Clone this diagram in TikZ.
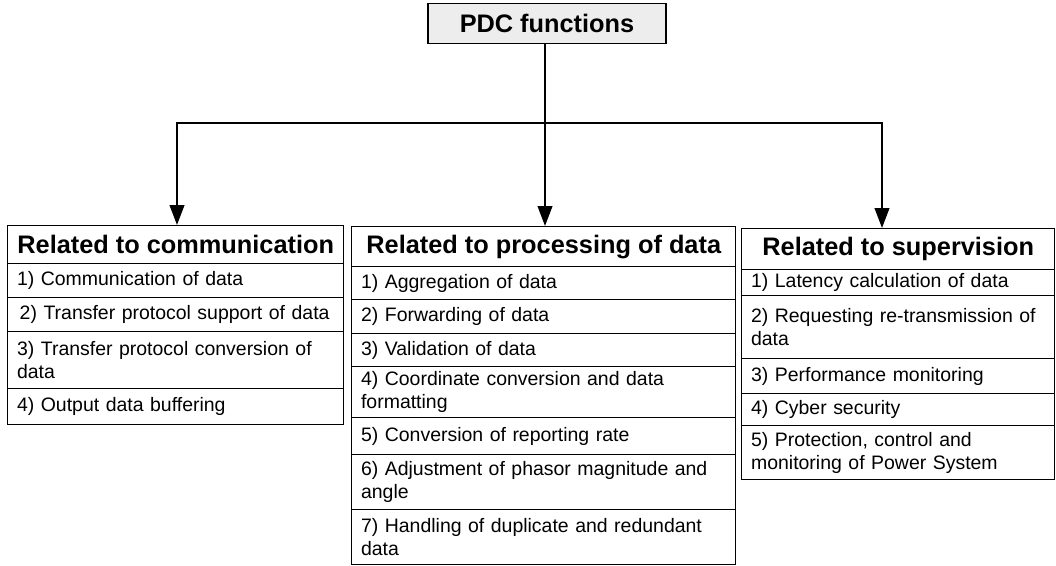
\documentclass[tikz,border=0pt]{standalone}
\usepackage{fontspec}
\setmainfont{Liberation Sans}
\usetikzlibrary{arrows.meta,positioning}

\tikzset{
  topbox/.style={draw=black,line width=1.1pt,fill=black!7,inner sep=0pt,minimum width=178.5pt,minimum height=30pt,font=\fontsize{19}{22}\selectfont\bfseries},
  headbox/.style={draw=black,line width=1.1pt,anchor=north west,inner sep=0pt,font=\fontsize{19}{22}\selectfont\bfseries,align=center},
  itembox/.style={draw=black,line width=1.1pt,anchor=north west,inner xsep=7pt,inner ysep=0pt,font=\fontsize{14.6}{17.5}\selectfont,align=left},
  commcol/.style={text width=238pt},
  proccol/.style={text width=274pt},
  supvcol/.style={text width=220.75pt},
  link/.style={line width=1.5pt},
  arr/.style={line width=1.5pt,-{Triangle[length=15pt,width=11pt]}}
}

\begin{document}
\begin{tikzpicture}[x=0.75pt,y=-0.75pt]
  \useasboundingbox (0,0) rectangle (1056,565);

  \node[topbox] (pdc) at (547,23.5) {PDC functions};

  % communication
  \node[headbox,minimum width=252pt,minimum height=28.5pt] (comm0) at (7,225) {Related to communication};
  \node[itembox,commcol,minimum height=25.5pt] (comm1) at (7,263) {1) Communication of data};
  \node[itembox,commcol,minimum height=25.5pt] (comm2) at (7,297) {\hspace*{2pt}2) Transfer protocol support of data};
  \node[itembox,commcol,minimum height=42.75pt] (comm3) at (7,331) {3) Transfer protocol conversion of\\data};
  \node[itembox,commcol,minimum height=27pt] (comm4) at (7,388) {4) Output data buffering};

  % processing
  \node[headbox,minimum width=288pt,minimum height=30pt] (proc0) at (351,226) {Related to processing of data};
  \node[itembox,proccol,minimum height=24.75pt] (proc1) at (351,266) {1) Aggregation of data};
  \node[itembox,proccol,minimum height=25.5pt] (proc2) at (351,299) {2) Forwarding of data};
  \node[itembox,proccol,minimum height=24.75pt] (proc3) at (351,333) {3) Validation of data};
  \node[itembox,proccol,minimum height=38.25pt] (proc4) at (351,366) {4) Coordinate conversion and data\\formatting};
  \node[itembox,proccol,minimum height=27.75pt] (proc5) at (351,417) {5) Conversion of reporting rate};
  \node[itembox,proccol,minimum height=41.25pt] (proc6) at (351,454) {6) Adjustment of phasor magnitude and\\angle};
  \node[itembox,proccol,minimum height=41.25pt] (proc7) at (351,509) {7) Handling of duplicate and redundant\\data};

  % supervision
  \node[headbox,minimum width=234.75pt,minimum height=30.75pt] (supv0) at (741,228) {Related to supervision};
  \node[itembox,supvcol,minimum height=19.5pt] (supv1) at (741,269) {1) Latency calculation of data};
  \node[itembox,supvcol,minimum height=47.25pt] (supv2) at (741,295) {2) Requesting re-transmission of\\data};
  \node[itembox,supvcol,minimum height=26.25pt] (supv3) at (741,358) {3) Performance monitoring};
  \node[itembox,supvcol,minimum height=24pt] (supv4) at (741,393) {4) Cyber security};
  \node[itembox,supvcol,minimum height=40.5pt] (supv5) at (741,425) {5) Protection, control and\\monitoring of Power System};

  % connectors
  \coordinate (busM) at (545,123);
  \coordinate (busL) at (177,123);
  \coordinate (busR) at (882,123);
  \draw[link] (pdc.south -| busM) -- (busM);
  \draw[arr] (busM) -- (busL) -- (busL |- comm0.north);
  \draw[arr] (busM) -- (busR) -- (busR |- supv0.north);
  \draw[arr] (busM) -- (busM |- proc0.north);
\end{tikzpicture}
\end{document}
